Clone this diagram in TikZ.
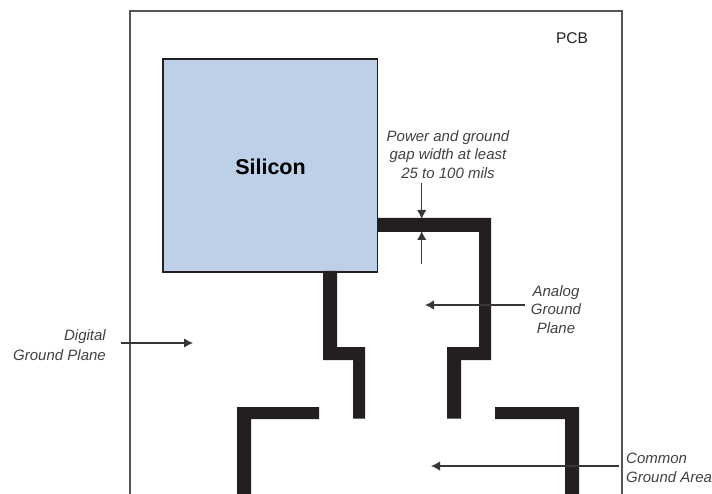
\documentclass[tikz,border=0pt]{standalone}
\usepackage{fontspec}
\setmainfont{Liberation Sans}
\usetikzlibrary{arrows.meta}
\definecolor{siliconblue}{HTML}{BDD0E8}
\definecolor{inkblack}{HTML}{231F20}
\definecolor{framegray}{HTML}{555555}
\tikzset{
  x=1pt,y=-1pt,
  trace/.style={fill=inkblack,draw=none},
  lead/.style={draw=inkblack!90,line width=1.4pt,-{Latex[length=9pt,width=9.5pt]}},
  lbl/.style={inner sep=0pt,text=inkblack!85,font=\fontsize{15}{18.5}\selectfont\itshape,align=center},
}
\begin{document}
\begin{tikzpicture}
\useasboundingbox (0,0) rectangle (712,494);
\fill[white] (0,0) rectangle (712,494);
% frame
\draw[framegray,line width=1.4pt] (130,494) -- (130,11) -- (622,11) -- (622,494);
% silicon
\node[draw=inkblack,fill=siliconblue,line width=1.6pt,minimum width=214.5pt,minimum height=213pt,inner sep=0pt,anchor=north west] (si) at (162,58) {};
\node[font=\fontsize{21.5}{24}\selectfont\bfseries,text=black,inner sep=0pt] (silabel) at (270.5,167) {Silicon};
\node[inner sep=0pt,font=\fontsize{15.5}{18}\selectfont,text=inkblack] (pcb) at (572,38) {PCB};
% traces
\fill[trace] (323,271) -- (337,271) -- (337,347) -- (365,347) -- (365,418.5) -- (353,418.5) -- (353,360) -- (323,360) -- cycle;
\fill[trace] (377,218) -- (491,218) -- (491,360) -- (461,360) -- (461,418.5) -- (447,418.5) -- (447,347) -- (479,347) -- (479,232) -- (377,232) -- cycle;
\fill[trace] (237,494) -- (237,407) -- (319,407) -- (319,419) -- (251,419) -- (251,494) -- cycle;
\fill[trace] (495,407) -- (579,407) -- (579,494) -- (565,494) -- (565,419) -- (495,419) -- cycle;
% labels
\node[lbl,anchor=center] (gap) at (448,154.5) {Power and ground\\gap width at least\\25 to 100 mils};
\node[lbl,anchor=east,align=right,font=\fontsize{15}{19.5}\selectfont\itshape] (digital) at (106,345) {Digital\\Ground Plane};
\node[lbl] (analog) at (556,309.5) {Analog\\Ground\\Plane};
\node[lbl,anchor=west,align=left,font=\fontsize{15}{19}\selectfont\itshape] (common) at (626,467.5) {Common\\Ground Area};
% connectors
\coordinate (gaptop) at (421.7,183);
\coordinate (gaptopend) at (421.7,219);
\coordinate (gapbot) at (421.7,264);
\coordinate (gapbotend) at (421.7,231);
\coordinate (dstart) at (121,343);
\coordinate (dend) at (193,343);
\coordinate (astart) at (525,305);
\coordinate (aend) at (425,305);
\coordinate (cstart) at (619,466);
\coordinate (cend) at (431,466);
\draw[lead] (gaptop) -- (gaptopend);
\draw[lead] (gapbot) -- (gapbotend);
\draw[lead] (dstart) -- (dend);
\draw[lead] (astart) -- (aend);
\draw[lead] (cstart) -- (cend);
\end{tikzpicture}
\end{document}
